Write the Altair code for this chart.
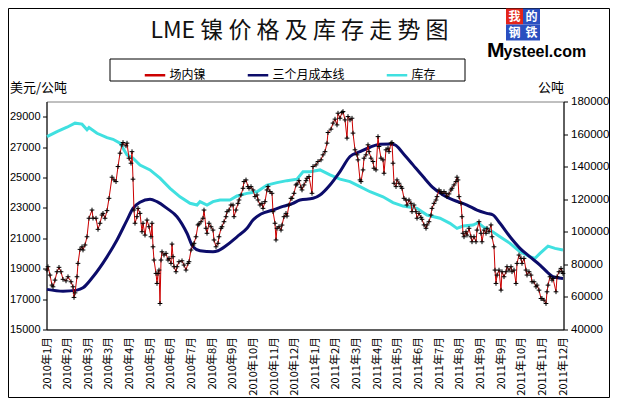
import altair as alt
import pandas as pd

# ---------------- data ----------------
x_labels = ["2010年1月", "2010年2月", "2010年3月", "2010年3月", "2010年4月", "2010年5月",
            "2010年6月", "2010年7月", "2010年8月", "2010年9月", "2010年10月", "2010年11月",
            "2010年12月", "2011年1月", "2011年2月", "2011年3月", "2011年4月", "2011年5月",
            "2011年6月", "2011年7月", "2011年8月", "2011年9月", "2011年9月", "2011年10月",
            "2011年11月", "2011年12月"]
last_day = 516  # trading-day index of the last point

series_names = ["场内镍", "三个月成本线", "库存"]
series_colors = ["#cc0000", "#0c0c6a", "#40e0e0"]

# LME cash nickel (USD/t), by trading-day index
price_day = [0, 1, 3, 5, 6, 8, 10, 12, 14, 16, 19, 21, 24, 26, 27, 28, 30, 31, 33, 35, 36, 38, 40, 42, 45,
             46, 49, 51, 53, 55, 56, 58, 60, 62, 65, 67, 69, 71, 73, 75, 76, 79, 80, 82, 84, 85, 86, 87,
             88, 90, 91, 93, 95, 96, 98, 100, 102, 104, 105, 106, 107, 109, 110, 111, 112, 113, 114, 115,
             117, 119, 121, 122, 124, 125, 126, 127, 129, 130, 132, 135, 137, 139, 141, 142, 144, 146,
             147, 149, 151, 152, 154, 156, 157, 159, 160, 162, 164, 166, 167, 169, 171, 172, 174, 175,
             177, 179, 180, 182, 184, 186, 187, 189, 191, 192, 194, 196, 197, 199, 201, 202, 204, 206,
             208, 210, 211, 213, 215, 216, 218, 220, 221, 223, 225, 226, 228, 229, 230, 232, 234, 235,
             237, 239, 240, 242, 244, 245, 247, 249, 250, 252, 254, 255, 257, 259, 260, 262, 265, 266,
             269, 271, 274, 276, 278, 280, 281, 284, 286, 288, 290, 291, 293, 295, 296, 298, 300, 301,
             303, 305, 306, 308, 310, 311, 313, 314, 316, 317, 319, 321, 322, 324, 326, 327, 329, 331,
             332, 334, 336, 337, 339, 341, 342, 344, 345, 346, 347, 349, 350, 352, 354, 355, 357, 359,
             360, 362, 364, 365, 367, 369, 370, 372, 374, 375, 377, 379, 380, 382, 384, 385, 387, 389,
             390, 392, 394, 395, 397, 399, 400, 402, 404, 405, 407, 409, 410, 411, 412, 414, 415, 416,
             417, 419, 420, 422, 424, 425, 427, 429, 430, 432, 434, 435, 437, 439, 440, 442, 444, 445,
             447, 448, 449, 450, 452, 454, 455, 457, 459, 460, 462, 464, 465, 467, 469, 470, 472, 474,
             475, 477, 479, 480, 482, 484, 485, 487, 489, 490, 492, 494, 495, 497, 499, 500, 501, 503,
             505, 506, 509, 510, 512, 514, 515, 516]
price_val = [18910, 19130, 18580, 17920, 17810, 18250, 18800, 19090, 18800, 18300, 18200, 18470, 18140,
             17810, 17110, 17410, 18470, 19350, 20270, 20440, 20230, 20560, 21100, 22320, 22860, 22320,
             22320, 21590, 21990, 22530, 22640, 22320, 22820, 23630, 25020, 24840, 24730, 25720, 26600,
             27150, 27300, 27080, 27260, 26270, 25940, 26700, 24890, 22860, 21990, 22420, 22970, 22640,
             21430, 21990, 21210, 22200, 21760, 21100, 21990, 20440, 19570, 18690, 18030, 18690, 18910,
             16710, 19570, 20110, 19900, 20010, 19570, 19680, 19350, 20620, 19790, 19130, 18800, 19130,
             19460, 19520, 19240, 18910, 19350, 19460, 20230, 20560, 20670, 21100, 21880, 21940, 22090,
             22320, 22860, 21660, 21330, 21990, 21760, 21540, 20890, 20440, 20670, 21100, 21660, 21760,
             22090, 22420, 22750, 22860, 23190, 23190, 22420, 22860, 23300, 23520, 23850, 24290, 24730,
             24840, 24400, 24290, 24400, 24180, 23740, 23850, 23520, 23190, 23300, 22970, 23410, 24180,
             24400, 24070, 23960, 22750, 21990, 20890, 21660, 21760, 21540, 21870, 22420, 22640, 22460,
             23190, 23630, 23630, 23960, 24510, 24570, 24790, 24360, 24180, 24510, 24790, 24950, 25060,
             23960, 25720, 25830, 26050, 26160, 26490, 26700, 27260, 27960, 28180, 28580, 28840, 28460,
             29230, 28900, 29280, 29340, 28790, 27590, 29010, 28790, 28900, 27920, 26820, 26490, 26160,
             24840, 24730, 25500, 26270, 26490, 27150, 26700, 26270, 26050, 25610, 25500, 27690, 27040,
             26270, 26160, 25280, 26820, 26930, 26700, 27260, 27300, 25940, 24620, 24400, 24840, 24620,
             24400, 24290, 23630, 23520, 23190, 23520, 23300, 22750, 23190, 22750, 22320, 22640, 22380,
             22250, 21880, 21660, 21880, 22090, 22530, 22970, 23300, 23520, 23740, 24180, 24070, 23960,
             24070, 23960, 23740, 23920, 24180, 24290, 24510, 24730, 25020, 24840, 23740, 23300, 22420,
             21330, 21100, 21430, 21210, 21660, 21100, 20770, 21100, 20770, 21540, 22090, 21330, 20770,
             21540, 21330, 21660, 21430, 21880, 21100, 20440, 18910, 18030, 18580, 18910, 17590, 18800,
             18470, 18800, 19130, 18910, 19130, 18800, 18910, 18030, 19350, 19900, 19680, 19350, 19680,
             18910, 18580, 18800, 18580, 18140, 18140, 17810, 17920, 17590, 17040, 17040, 16930, 16710,
             17480, 17920, 18470, 18250, 18360, 17480, 18470, 18800, 19020, 18800, 18690]

# three-month cost line (USD/t)
cost_day = [0, 16, 30, 36, 46, 60, 70, 80, 86, 93, 103, 110, 120, 130, 140, 146, 153, 166, 171, 180, 190,
            200, 206, 214, 226, 236, 246, 253, 266, 273, 283, 293, 303, 313, 323, 333, 343, 348, 356, 366,
            376, 386, 396, 406, 420, 430, 440, 446, 453, 463, 473, 483, 493, 501, 506, 516]
cost_val = [17640, 17520, 17590, 17740, 18470, 19780, 20890, 22200, 22970, 23370, 23570, 23410, 22970,
            22420, 21330, 20440, 20180, 20110, 20180, 20560, 21100, 21660, 22200, 22600, 22860, 23100,
            23300, 23520, 23630, 23850, 24510, 25390, 26380, 26700, 26990, 27190, 27210, 27150, 26600,
            25830, 25060, 24330, 23850, 23520, 23190, 22860, 22640, 22530, 21990, 21100, 20340, 19780,
            19240, 18730, 18470, 18360]

# LME nickel stocks (t)
stock_day = [0, 10, 20, 28, 35, 40, 42, 50, 60, 66, 73, 80, 86, 93, 103, 113, 123, 133, 143, 150, 153,
             160, 166, 173, 183, 190, 200, 210, 220, 230, 240, 250, 256, 263, 273, 283, 293, 303, 313,
             323, 336, 346, 356, 370, 380, 393, 403, 410, 416, 426, 431, 436, 443, 453, 463, 473, 483,
             488, 493, 501, 508, 516]
stock_val = [158450, 161500, 164200, 166700, 166100, 162600, 164000, 160500, 157800, 156800, 154400,
             147200, 145200, 141000, 138000, 132900, 126700, 121500, 117500, 116400, 118500, 116400,
             118500, 119500, 119500, 122000, 123600, 124600, 128700, 130200, 131400, 132300, 136900,
             136900, 138000, 134900, 132300, 130800, 127700, 124600, 121500, 117900, 115800, 114400,
             110300, 108300, 105200, 102100, 103500, 104100, 105600, 103100, 101100, 97000, 92900,
             87700, 84700, 83700, 86700, 91200, 89800, 88800]

# ---------------- frames ----------------
price_df = pd.DataFrame({"day": price_day, "v": price_val, "s": series_names[0]})
cost_df = pd.DataFrame({"day": cost_day, "v": cost_val, "s": series_names[1]})
stock_df = pd.DataFrame({"day": stock_day, "sv": stock_val, "s": series_names[2]})

W, H = 517, 228
PAD_L, PAD_T, PAD_R, PAD_B = 38.5, 93.5, 46.5, 68.5
CJK = "Noto Sans CJK SC"
NUM = "Liberation Sans"

tick_vals = [k * last_day / (len(x_labels) - 1) for k in range(len(x_labels))]
label_expr = "[" + ",".join("'" + s + "'" for s in x_labels) + "][round(datum.value*%d/%d)]" % (
    len(x_labels) - 1, last_day)

x_enc = alt.X("day:Q",
              scale=alt.Scale(domain=[-0.5, last_day + 0.5], nice=False, zero=False),
              axis=alt.Axis(values=tick_vals, labelExpr=label_expr, labelAngle=-90, ticks=False,
                            grid=False, domainColor="black", labelFont=CJK, labelFontSize=11,
                            labelColor="black", labelPadding=7, labelOverlap=False,
                            labelFlush=False, title=None))

y_left = alt.Y("v:Q",
               scale=alt.Scale(domain=[15000, 30000], nice=False, zero=False),
               axis=alt.Axis(orient="left", values=list(range(15000, 30000, 2000)), format="d",
                             grid=False, tickSize=4, tickColor="black", domainColor="black",
                             labelFont=NUM, labelFontSize=11, labelColor="black", labelPadding=2.5,
                             title="美元/公吨", titleAngle=0, titleX=-37, titleY=-14,
                             titleAlign="left", titleBaseline="middle", titleFont=CJK,
                             titleFontSize=13, titleFontWeight="normal", titleColor="black"))

y_right = alt.Y("sv:Q",
                scale=alt.Scale(domain=[40000, 180000], nice=False, zero=False),
                axis=alt.Axis(orient="right", values=list(range(40000, 180001, 20000)), format="d",
                              grid=False, tickSize=4, tickColor="black", domainColor="black",
                              labelFont=NUM, labelFontSize=11.5, labelColor="black", labelPadding=3,
                              title="公吨", titleAngle=0, titleX=-26, titleY=-14,
                              titleAlign="left", titleBaseline="middle", titleFont=CJK,
                              titleFontSize=13, titleFontWeight="normal", titleColor="black"))

color_enc = alt.Color("s:N",
                      scale=alt.Scale(domain=series_names, range=series_colors),
                      legend=alt.Legend(orient="none", legendX=97, legendY=-38, direction="horizontal",
                                        columns=3, columnPadding=36, title=None, padding=0,
                                        symbolType="stroke", symbolSize=420, symbolStrokeWidth=2.5,
                                        labelFont=CJK, labelFontSize=12, labelColor="black",
                                        labelOffset=3))

stock_line = alt.Chart(stock_df).mark_line(strokeWidth=3).encode(x=x_enc, y=y_right, color=color_enc)
cost_line = alt.Chart(cost_df).mark_line(strokeWidth=3, interpolate="monotone").encode(
    x=x_enc, y=y_left, color=color_enc)
price_line = alt.Chart(price_df).mark_line(strokeWidth=1).encode(x=x_enc, y=y_left, color=color_enc)
price_pts = alt.Chart(price_df).mark_point(shape="M-1,0L1,0M0,-1L0,1", size=22, filled=False,
                                           stroke="black", strokeWidth=1, opacity=1).encode(
    x=x_enc, y=y_left)

left = alt.layer(cost_line, price_line, price_pts)


def deco_text(text, x, y, size, font=CJK, **kw):
    return alt.Chart(pd.DataFrame({"t": [text]})).mark_text(
        font=font, fontSize=size, **kw).encode(text="t:N", x=alt.value(x), y=alt.value(y))


def deco_rect(x, x2, y, y2, **kw):
    return alt.Chart(pd.DataFrame({"t": [0]})).mark_rect(**kw).encode(
        x=alt.value(x), x2=alt.value(x2), y=alt.value(y), y2=alt.value(y2))


title = deco_text("LME 镍 价 格 及 库 存 走 势 图", 253, -71, 23, align="center", baseline="middle",
                  color="#111111")
legend_box = deco_rect(63.5, 418.5, -42.5, -20.5, fill="white", fillOpacity=0, stroke="black",
                       strokeWidth=1)
outer_box = deco_rect(-PAD_L + 0.5, W + PAD_R - 0.5, -PAD_T + 0.5, H + PAD_B - 0.5,
                      fillOpacity=0, stroke="black", strokeWidth=1)

logo_sq = [
    deco_rect(459.5, 476.5, -93, -77, fill="#e3241b"),
    deco_rect(476.5, 493.5, -93, -77, fill="#2a4fc0"),
    deco_rect(459.5, 476.5, -77, -61, fill="#2a4fc0"),
    deco_rect(476.5, 493.5, -77, -61, fill="#2a4fc0"),
]
logo_txt = [
    deco_text("我", 468, -85, 12, align="center", baseline="middle", color="white", fontWeight="bold"),
    deco_text("的", 485, -85, 12, align="center", baseline="middle", color="white", fontWeight="bold"),
    deco_text("钢", 468, -69, 12, align="center", baseline="middle", color="white", fontWeight="bold"),
    deco_text("铁", 485, -69, 12, align="center", baseline="middle", color="white", fontWeight="bold"),
    deco_text("M", 440.5, -45, 21, font=NUM, align="left", baseline="alphabetic", color="black",
              fontWeight="bold"),
    deco_text("ysteel.com", 457, -45, 16, font=NUM, align="left", baseline="alphabetic",
              color="black", fontWeight="bold"),
]

chart = alt.layer(stock_line, left, title, legend_box, outer_box, *logo_sq, *logo_txt).resolve_scale(
    y="independent"
).properties(
    width=W, height=H,
    padding={"left": PAD_L, "top": PAD_T, "right": PAD_R, "bottom": PAD_B},
    autosize=alt.AutoSizeParams(type="none"),
    background="white",
).configure_view(stroke="#808080", strokeWidth=1)

chart.save("out.html", embed_options={"renderer": "svg", "actions": False})
